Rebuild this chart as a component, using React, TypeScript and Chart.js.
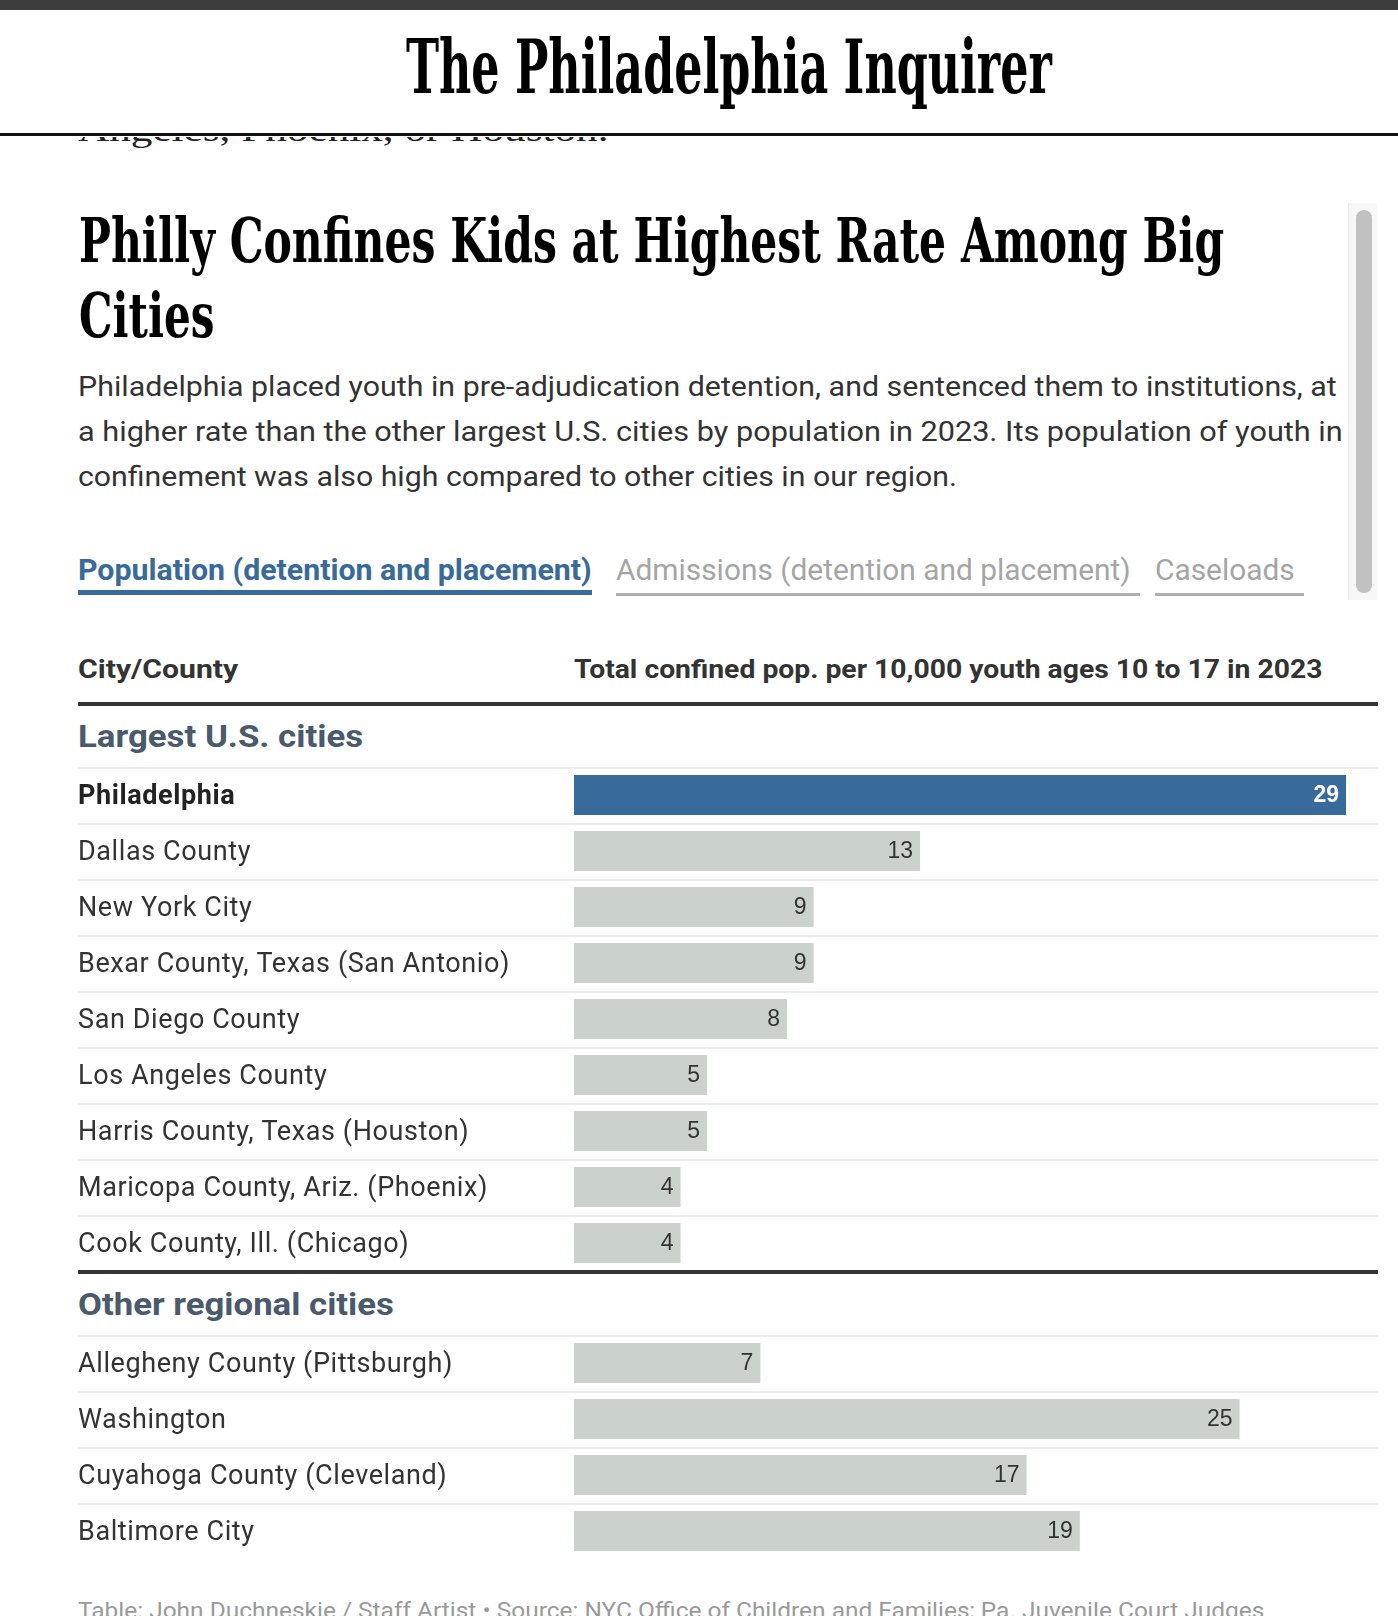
import React, { useEffect, useLayoutEffect, useRef, useState } from "react";
import { Chart, registerables } from "chart.js";

Chart.register(...registerables);

// ---------- data ----------
const largestCities = [
  "Philadelphia",
  "Dallas County",
  "New York City",
  "Bexar County, Texas (San Antonio)",
  "San Diego County",
  "Los Angeles County",
  "Harris County, Texas (Houston)",
  "Maricopa County, Ariz. (Phoenix)",
  "Cook County, Ill. (Chicago)",
];
const largestValues = [29, 13, 9, 9, 8, 5, 5, 4, 4];

const regionalCities = [
  "Allegheny County (Pittsburgh)",
  "Washington",
  "Cuyahoga County (Cleveland)",
  "Baltimore City",
];
const regionalValues = [7, 25, 17, 19];

const highlightCity = "Philadelphia";
const axisMax = 30.2;

// ---------- style ----------
const SANS = 'Roboto, "Noto Sans", sans-serif';
const SLAB = '"DejaVu Serif Condensed", "DejaVu Serif", serif';
const SERIF = '"Liberation Serif", "DejaVu Serif", serif';
const BLUE = "#386a9b";
const GRAY_BAR = "#cbd1cb";
const SLATE = "#4a5a6e";
const TEXT = "#333333";

function Fit({ text, width }: { text: string; width?: number }) {
  const ref = useRef<HTMLSpanElement>(null);
  const [s, setS] = useState(1);
  useLayoutEffect(() => {
    if (!ref.current || !width) return;
    const w = ref.current.offsetWidth;
    if (w > 0) setS(width / w);
  }, [text, width]);
  return (
    <span
      ref={ref}
      style={{
        display: "inline-block",
        whiteSpace: "nowrap",
        transform: `scaleX(${s})`,
        transformOrigin: "left top",
      }}
    >
      {text}
    </span>
  );
}

function Txt(props: {
  x: number;
  base: number;
  size: number;
  text: string;
  width?: number;
  family?: string;
  weight?: number | string;
  color?: string;
  k?: number;
  stretch?: string;
}) {
  const { x, base, size, text, width, family = SANS, weight = 400, color = TEXT, k = 0.842, stretch } = props;
  return (
    <div
      style={{
        position: "absolute",
        left: x,
        top: base - k * size,
        fontSize: size,
        lineHeight: `${size}px`,
        fontFamily: family,
        fontWeight: weight as any,
        fontStretch: stretch as any,
        color,
        whiteSpace: "nowrap",
      }}
    >
      <Fit text={text} width={width} />
    </div>
  );
}

function Rect({ x, y, w, h, c, r }: { x: number; y: number; w: number; h: number; c: string; r?: number }) {
  return <div style={{ position: "absolute", left: x, top: y, width: w, height: h, background: c, borderRadius: r }} />;
}

const letterSpacingPlugin = {
  id: "labelSpacing",
  beforeDraw(chart: any) {
    chart.ctx.letterSpacing = "0.6px";
  },
  afterDraw(chart: any) {
    chart.ctx.letterSpacing = "0px";
  },
};

const rowLinesPlugin = {
  id: "rowLines",
  beforeDatasetsDraw(chart: any) {
    const y = chart.scales.y;
    const n = chart.data.labels.length;
    const step = n > 1 ? y.getPixelForValue(1) - y.getPixelForValue(0) : y.height;
    const ctx = chart.ctx;
    ctx.save();
    ctx.fillStyle = "#ebebeb";
    for (let i = 0; i < n; i++) {
      const py = Math.round(y.getPixelForValue(i) - step / 2);
      ctx.fillRect(0, py, chart.width, 2);
    }
    ctx.restore();
  },
};

const valueLabelsPlugin = {
  id: "valueLabels",
  afterDatasetsDraw(chart: any) {
    const ctx = chart.ctx;
    const meta = chart.getDatasetMeta(0);
    const labels = chart.data.labels as string[];
    const data = chart.data.datasets[0].data as number[];
    ctx.save();
    ctx.letterSpacing = "0px";
    ctx.textAlign = "right";
    ctx.textBaseline = "middle";
    meta.data.forEach((bar: any, i: number) => {
      const hi = labels[i] === highlightCity;
      ctx.font = `${hi ? "bold " : ""}23px "Liberation Sans", Arial, sans-serif`;
      ctx.fillStyle = hi ? "#ffffff" : TEXT;
      ctx.fillText(String(data[i]), bar.x - 7, bar.y + 1);
    });
    ctx.restore();
  },
};

function BarTable({ labels, values, top, height }: { labels: string[]; values: number[]; top: number; height: number }) {
  const ref = useRef<HTMLCanvasElement>(null);
  useEffect(() => {
    if (!ref.current) return;
    const chart = new Chart(ref.current, {
      type: "bar",
      data: {
        labels,
        datasets: [
          {
            data: values,
            backgroundColor: labels.map((l) => (l === highlightCity ? BLUE : GRAY_BAR)),
            borderWidth: 0,
            barPercentage: 40 / 56,
            categoryPercentage: 1,
          },
        ],
      },
      options: {
        indexAxis: "y",
        animation: false,
        responsive: true,
        maintainAspectRatio: false,
        layout: { padding: 0 },
        plugins: { legend: { display: false }, tooltip: { enabled: false } },
        scales: {
          x: { display: false, min: 0, max: axisMax },
          y: {
            afterFit: (s: any) => {
              s.width = 496;
              s.paddingTop = 0;
              s.paddingBottom = 0;
            },
            grid: { display: false },
            border: { display: false },
            ticks: {
              crossAlign: "far",
              padding: 0,
              labelOffset: 2,
              autoSkip: false,
              color: (c: any) => (labels[c.index] === highlightCity ? "#222" : TEXT),
              font: (c: any) => ({
                family: SANS,
                size: 27,
                weight: labels[c.index] === highlightCity ? "bold" : "normal",
              }),
            },
          },
        },
      } as any,
      plugins: [letterSpacingPlugin, rowLinesPlugin, valueLabelsPlugin],
    });
    return () => chart.destroy();
  }, []);
  return (
    <div style={{ position: "absolute", left: 78, top, width: 1300, height }}>
      <canvas ref={ref} />
    </div>
  );
}

export default function App() {
  return (
    <div
      style={{
        position: "absolute",
        left: 0,
        top: 0,
        width: 1398,
        height: 1616,
        overflow: "hidden",
        background: "#fff",
      }}
    >
      {/* cut-off article text under the header */}
      <Txt x={78} base={142} size={34} family={SERIF} text="Angeles, Phoenix, or Houston." width={530} color="#222" />

      {/* header */}
      <div style={{ position: "absolute", left: 0, top: 0, width: 1398, height: 137, background: "#fff", zIndex: 2 }}>
        <Rect x={0} y={0} w={1398} h={10} c="#3d3d3d" />
        <Rect x={0} y={133} w={1398} h={3} c="#111" />
        <Txt x={406} base={92} size={74} family={SLAB} weight={700} stretch="condensed" text="The Philadelphia Inquirer" width={646} color="#000" />
      </div>

      {/* title */}
      <Txt x={79} base={262} size={62} family={SLAB} weight={700} stretch="condensed" text="Philly Confines Kids at Highest Rate Among Big" width={1145} color="#000" />
      <Txt x={79} base={337} size={62} family={SLAB} weight={700} stretch="condensed" text="Cities" width={135} color="#000" />

      {/* subtitle */}
      <Txt x={78} base={397} size={28} text="Philadelphia placed youth in pre-adjudication detention, and sentenced them to institutions, at" width={1259} />
      <Txt x={78} base={442} size={28} text="a higher rate than the other largest U.S. cities by population in 2023. Its population of youth in" width={1265} />
      <Txt x={78} base={487} size={28} text="confinement was also high compared to other cities in our region." width={879} />

      {/* tabs */}
      <Txt x={78} base={580} size={29} weight={700} color={BLUE} text="Population (detention and placement)" width={514} />
      <Rect x={78} y={590} w={514} h={5} c={BLUE} />
      <Txt x={616} base={580} size={29} color="#a5a5a5" text="Admissions (detention and placement)" width={515} />
      <Rect x={616} y={593} w={524} h={3} c="#b0b0b0" />
      <Txt x={1155} base={580} size={29} color="#a5a5a5" text="Caseloads" width={140} />
      <Rect x={1155} y={593} w={149} h={3} c="#b0b0b0" />

      {/* scrollbar */}
      <div style={{ position: "absolute", left: 1348, top: 203, width: 29, height: 397, background: "#f7f7f7", borderLeft: "1px solid #ececec", boxSizing: "border-box" }} />
      <Rect x={1356} y={210} w={16} h={383} c="#c1c1c1" r={8} />

      {/* column headers */}
      <Txt x={78} base={678} size={26} weight={700} text="City/County" width={160} />
      <Txt x={574} base={678} size={26} weight={700} text="Total confined pop. per 10,000 youth ages 10 to 17 in 2023" width={748} />
      <Rect x={78} y={702} w={1300} h={4} c="#333" />

      {/* section 1 */}
      <Txt x={78} base={747} size={32} weight={700} color={SLATE} text="Largest U.S. cities" width={285} />
      <BarTable labels={largestCities} values={largestValues} top={767} height={504} />
      <Rect x={78} y={1270} w={1300} h={4} c="#333" />

      {/* section 2 */}
      <Txt x={78} base={1315} size={32} weight={700} color={SLATE} text="Other regional cities" width={316} />
      <BarTable labels={regionalCities} values={regionalValues} top={1335} height={224} />

      {/* footer */}
      <Txt x={78} base={1619} size={22} color="#9a9a9a" text="Table: John Duchneskie / Staff Artist • Source: NYC Office of Children and Families; Pa. Juvenile Court Judges" width={1186} />
    </div>
  );
}
